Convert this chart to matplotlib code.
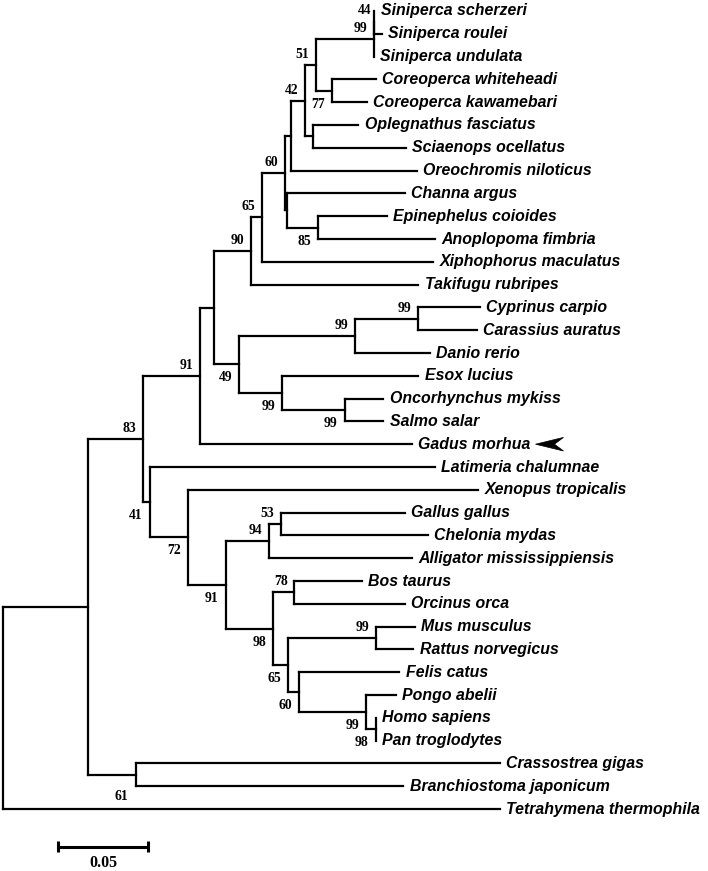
import matplotlib
matplotlib.use('Agg')
import matplotlib.pyplot as plt
from matplotlib.collections import LineCollection
from matplotlib.patches import Polygon

# ---------------- data ----------------
taxa = [
    "Siniperca scherzeri", "Siniperca roulei", "Siniperca undulata",
    "Coreoperca whiteheadi", "Coreoperca kawamebari", "Oplegnathus fasciatus",
    "Sciaenops ocellatus", "Oreochromis niloticus", "Channa argus",
    "Epinephelus coioides", "Anoplopoma fimbria", "Xiphophorus maculatus",
    "Takifugu rubripes", "Cyprinus carpio", "Carassius auratus", "Danio rerio",
    "Esox lucius", "Oncorhynchus mykiss", "Salmo salar", "Gadus morhua",
    "Latimeria chalumnae", "Xenopus tropicalis", "Gallus gallus",
    "Chelonia mydas", "Alligator mississippiensis", "Bos taurus",
    "Orcinus orca", "Mus musculus", "Rattus norvegicus", "Felis catus",
    "Pongo abelii", "Homo sapiens", "Pan troglodytes", "Crassostrea gigas",
    "Branchiostoma japonicum", "Tetrahymena thermophila",
]
# root-to-tip distance of each taxon (substitutions per site)
taxon_depth = [
    0.2061, 0.2103, 0.2058, 0.2068, 0.2018, 0.1971, 0.2236, 0.2297, 0.2231,
    0.2131, 0.2397, 0.2388, 0.2304, 0.2647, 0.2631, 0.2369, 0.2304, 0.2110,
    0.2110, 0.2268, 0.2397, 0.2636, 0.2231, 0.2358, 0.2269, 0.1990, 0.2231,
    0.2286, 0.2277, 0.2199, 0.2179, 0.2069, 0.2069, 0.2758, 0.2221, 0.2758,
]
# internal nodes
node_names = ["root", "R1", "N83", "N91", "U214", "N90", "N65", "N60", "U290",
              "N42", "N51", "N99s", "N44", "N77", "NOS", "U287", "N85", "N49",
              "N99c", "N99cc", "N99es", "N99sal", "N41", "N72", "N91b", "N94",
              "N53", "N98", "N78", "N65b", "N99r", "N60b", "N99p", "N98hp", "N61"]
node_children = [
    ["R1", "Tetrahymena thermophila"],
    ["N83", "N61"],
    ["N91", "N41"],
    ["U214", "Gadus morhua"],
    ["N90", "N49"],
    ["N65", "Takifugu rubripes"],
    ["N60", "Xiphophorus maculatus"],
    ["U290", "U287"],
    ["N42", "Oreochromis niloticus"],
    ["N51", "NOS"],
    ["N99s", "N77"],
    ["N44", "Siniperca undulata"],
    ["Siniperca scherzeri", "Siniperca roulei"],
    ["Coreoperca whiteheadi", "Coreoperca kawamebari"],
    ["Oplegnathus fasciatus", "Sciaenops ocellatus"],
    ["Channa argus", "N85"],
    ["Epinephelus coioides", "Anoplopoma fimbria"],
    ["N99c", "N99es"],
    ["N99cc", "Danio rerio"],
    ["Cyprinus carpio", "Carassius auratus"],
    ["Esox lucius", "N99sal"],
    ["Oncorhynchus mykiss", "Salmo salar"],
    ["Latimeria chalumnae", "N72"],
    ["Xenopus tropicalis", "N91b"],
    ["N94", "N98"],
    ["N53", "Alligator mississippiensis"],
    ["Gallus gallus", "Chelonia mydas"],
    ["N78", "N65b"],
    ["Bos taurus", "Orcinus orca"],
    ["N99r", "N60b"],
    ["Mus musculus", "Rattus norvegicus"],
    ["Felis catus", "N99p"],
    ["Pongo abelii", "N98hp"],
    ["Homo sapiens", "Pan troglodytes"],
    ["Crassostrea gigas", "Branchiostoma japonicum"],
]
node_depth = [0.0, 0.0469, 0.0773, 0.1092, 0.1171, 0.1373, 0.1438, 0.1564, 0.1596,
              0.1675, 0.1734, 0.2058, 0.2061, 0.1823, 0.1721, 0.1575, 0.1749, 0.1310,
              0.1953, 0.2304, 0.1549, 0.1897, 0.0814, 0.1027, 0.1236, 0.1475,
              0.1540, 0.1499, 0.1616, 0.1582, 0.2068, 0.1643, 0.2014, 0.2069, 0.0734]
node_support = [None, None, 83, 91, None, 90, 65, 60, None,
                42, 51, 99, 44, 77, None, None, 85, 49,
                99, 99, 99, 99, 41, 72, 91, 94,
                53, 98, 78, 65, 99, 60, 99, 98, 61]
scale_length = 0.05
scale_label = "0.05"

# ---------------- style ----------------
W, H = 708, 871
PX_PER_UNIT = 1800.0
X0_PX = 3.5
Y0_PX = 11.0
ROW_PX = 22.8
# label placement of bootstrap values: (dx, dy) in pixels relative to node (y downward)
ABOVE = (-13.5, -10.5)
BELOW = (-14.0, 13.5)
label_pos = {
    "N83": ABOVE, "N91": ABOVE, "N90": ABOVE, "N65": ABOVE, "N60": ABOVE,
    "N42": ABOVE, "N51": ABOVE, "N99s": ABOVE, "N44": (-9.5, -12.0),
    "N77": BELOW, "N85": BELOW, "N49": BELOW, "N99c": ABOVE, "N99cc": ABOVE,
    "N99es": BELOW, "N99sal": BELOW, "N41": BELOW, "N72": BELOW, "N91b": BELOW,
    "N94": ABOVE, "N53": ABOVE, "N98": BELOW, "N78": ABOVE, "N65b": BELOW,
    "N99r": ABOVE, "N60b": BELOW, "N99p": BELOW, "N98hp": BELOW, "N61": (-14.0, 22.0),
}

fig = plt.figure(figsize=(W / 100, H / 100), dpi=100)
ax = fig.add_axes([0, 0, 1, 1])
ax.set_xlim(-X0_PX / PX_PER_UNIT, (W - X0_PX) / PX_PER_UNIT)
ax.set_ylim((H - Y0_PX) / ROW_PX, -Y0_PX / ROW_PX)
ax.axis('off')

# ---------------- layout ----------------
depth = {t: d for t, d in zip(taxa, taxon_depth)}
ypos = {t: i for i, t in enumerate(taxa)}
children = {}
for n, ch, d in zip(node_names, node_children, node_depth):
    children[n] = ch
    depth[n] = d
parent = {}
for n, ch in children.items():
    for c in ch:
        parent[c] = n


def get_y(n):
    if n in ypos:
        return ypos[n]
    ys = [get_y(c) for c in children[n]]
    ypos[n] = (ys[0] + ys[-1]) / 2.0
    return ypos[n]


for n in node_names:
    get_y(n)

segs = []
for n in node_names:
    ch = children[n]
    segs.append([(depth[n], ypos[ch[0]]), (depth[n], ypos[ch[-1]])])
for c, p in parent.items():
    segs.append([(depth[p], ypos[c]), (depth[c], ypos[c])])

lc = LineCollection(segs, colors='black', linewidths=1.6, capstyle='projecting')
ax.add_collection(lc)

leaf_font = dict(family=['Liberation Sans', 'DejaVu Sans'], weight='bold',
                 style='italic', size=11.4)
texts = {}
for t in taxa:
    texts[t] = ax.annotate(t, (depth[t], ypos[t]), xytext=(4.6, 0),
                           textcoords='offset points', ha='left', va='center',
                           **leaf_font)

boot_font = dict(family=['Liberation Serif', 'DejaVu Serif'], weight='bold', size=9.8)
for n, s in zip(node_names, node_support):
    if s is None:
        continue
    dx, dy = label_pos[n]
    ax.annotate(str(s), (depth[n], ypos[n]), xytext=(dx * 0.72, -dy * 0.72),
                textcoords='offset points', ha='center', va='center', **boot_font)

# scale bar
sb_x0 = (58.3 - X0_PX) / PX_PER_UNIT
sb_y = (846.7 - Y0_PX) / ROW_PX
tick = 5.5 / ROW_PX
ax.plot([sb_x0, sb_x0 + scale_length], [sb_y, sb_y], color='black', lw=2.2,
        solid_capstyle='butt')
for xx in (sb_x0, sb_x0 + scale_length):
    ax.plot([xx, xx], [sb_y - tick, sb_y + tick], color='black', lw=2.2,
            solid_capstyle='butt')
ax.text(sb_x0 + scale_length / 2, (862.7 - Y0_PX) / ROW_PX, scale_label,
        ha='center', va='center', family=['Liberation Serif', 'DejaVu Serif'],
        weight='bold', size=11.5)

# arrow pointing at Gadus morhua
fig.canvas.draw()
bb = texts["Gadus morhua"].get_window_extent()
inv = ax.transData.inverted()
gy_disp = ax.transData.transform((0, ypos["Gadus morhua"]))[1]
tip_x = bb.x1 + 5
pts_disp = [(tip_x, gy_disp), (tip_x + 28, gy_disp + 6.8),
            (tip_x + 19, gy_disp), (tip_x + 28, gy_disp - 6.8)]
pts = inv.transform(pts_disp)
ax.add_patch(Polygon(pts, closed=True, facecolor='black', edgecolor='black', lw=0.5))

fig.savefig('out.png', dpi=100)
